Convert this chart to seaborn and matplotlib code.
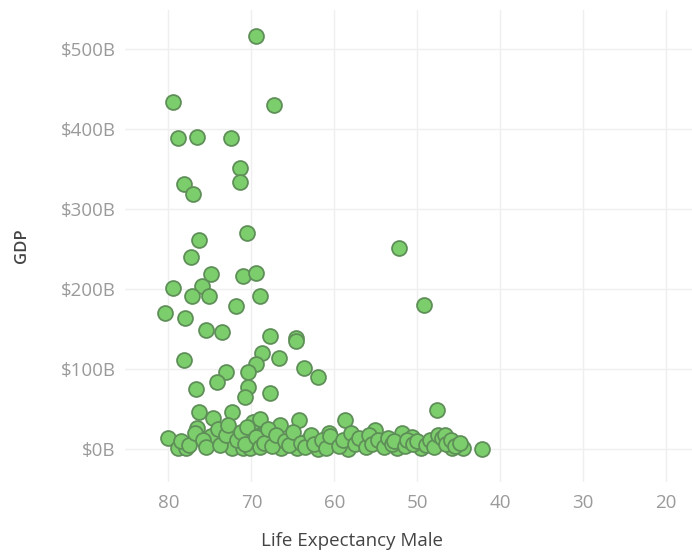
import matplotlib
matplotlib.use("Agg")
import matplotlib.pyplot as plt
import seaborn as sns
import pandas as pd
from matplotlib.ticker import FuncFormatter

# Life expectancy (male, years) and GDP (billions USD)
life_expectancy_male = [
    69.4, 79.4, 67.3, 78.9, 76.6, 72.5, 71.4, 71.4, 78.1, 77.0,
    76.3, 70.5, 77.3, 52.2, 49.2, 79.5, 76.0, 77.1, 75.1, 74.9,
    71.0, 69.5, 69.0, 71.9, 80.4, 78.0, 75.5, 73.5, 67.7, 64.6,
    64.6, 78.1, 68.7, 69.5, 66.7, 70.4, 63.7, 62.0, 73.0, 74.2,
    76.7, 70.4, 67.7, 70.8, 76.3, 72.3, 74.6, 69.5, 64.3, 58.7,
    80.0, 47.6,
    78.9, 77.9, 76.5, 74.9, 73.2, 72.3, 71.0, 69.8, 69.0, 70.2,
    68.2, 66.6, 66.4, 64.5, 63.2, 62.0, 60.6, 60.0, 58.4, 56.6,
    55.1, 54.2, 52.4, 51.8, 50.6, 49.6, 47.2, 45.8, 44.5, 42.2,
    78.5, 77.5, 76.8, 75.8, 75.5, 74.0, 73.8, 73.0, 72.8, 71.7,
    71.3, 70.8, 70.5, 69.5, 69.0, 68.5, 68.0, 67.5, 67.0, 66.0,
    65.5, 65.0, 64.0, 63.5, 62.8, 62.5, 61.5, 61.0, 60.5, 59.5,
    59.0, 58.0, 57.5, 57.0, 56.2, 55.8, 55.5, 54.8, 54.0, 53.5,
    53.0, 52.8, 51.5, 51.2, 50.5, 50.0, 49.0, 48.5, 48.0, 47.5,
    47.0, 46.7, 46.5, 46.0, 45.5, 44.8,
]
gdp_billions = [
    516, 434, 430, 389, 390, 389, 351, 334, 331, 319,
    262, 270, 240, 251, 180, 201, 204, 191, 192, 219,
    216, 220, 191, 179, 170, 164, 149, 146, 141, 139,
    135, 111, 120, 106, 114, 97, 101, 90, 96, 84,
    75, 78, 70, 65, 46, 46, 39, 34, 36, 36,
    14, 49,
    2, 2, 26, 17, 9, 1, 2, 34, 38, 1,
    14, 30, 2, 1, 11, 0, 20, 9, 0, 9,
    24, 8, 2, 20, 15, 1, 9, 1, 1, 0,
    10, 5, 20, 12, 3, 25, 5, 18, 30, 12,
    22, 6, 28, 15, 3, 8, 25, 4, 18, 10,
    5, 22, 8, 3, 18, 6, 12, 2, 16, 4,
    12, 20, 6, 14, 3, 18, 7, 12, 3, 14,
    6, 10, 4, 12, 6, 10, 5, 12, 3, 18,
    14, 18, 6, 12, 4, 8,
]
x_ticks = [80, 70, 60, 50, 40, 30, 20]
y_ticks = [0, 100, 200, 300, 400, 500]

df = pd.DataFrame({"Life Expectancy Male": life_expectancy_male,
                   "GDP": gdp_billions})

sns.set_theme(style="white")
plt.rcParams["font.family"] = ["Open Sans", "DejaVu Sans"]

fig = plt.figure(figsize=(6.92, 5.54), dpi=100)
ax = fig.add_axes([0.181, 0.130, 0.819, 0.852])

ax.set_axisbelow(True)
ax.grid(True, color="#efefef", linewidth=1.0)

sns.scatterplot(data=df, x="Life Expectancy Male", y="GDP", ax=ax,
                s=115, color="#7ccd6c", edgecolor="#5f8f58",
                linewidth=1.3, alpha=1.0, zorder=3)

ax.set_xlim(85.2, 16.9)
ax.set_ylim(-41, 549)
ax.set_xticks(x_ticks)
ax.set_yticks(y_ticks)
ax.yaxis.set_major_formatter(FuncFormatter(lambda v, p: f"${int(v)}B"))

for s in ax.spines.values():
    s.set_visible(False)
ax.tick_params(axis="x", length=0, labelsize=13.5, labelcolor="#9a9a9a", pad=9)
ax.tick_params(axis="y", length=0, labelsize=13.5, labelcolor="#9a9a9a", pad=7)
ax.set_xlabel("Life Expectancy Male", fontsize=13.5, color="#444444")
ax.set_ylabel("GDP", fontsize=12, color="#444444", fontweight="semibold")
ax.xaxis.set_label_coords(0.40, -0.105)
ax.yaxis.set_label_coords(-0.168, 0.5)

fig.savefig("out.png", dpi=100)
